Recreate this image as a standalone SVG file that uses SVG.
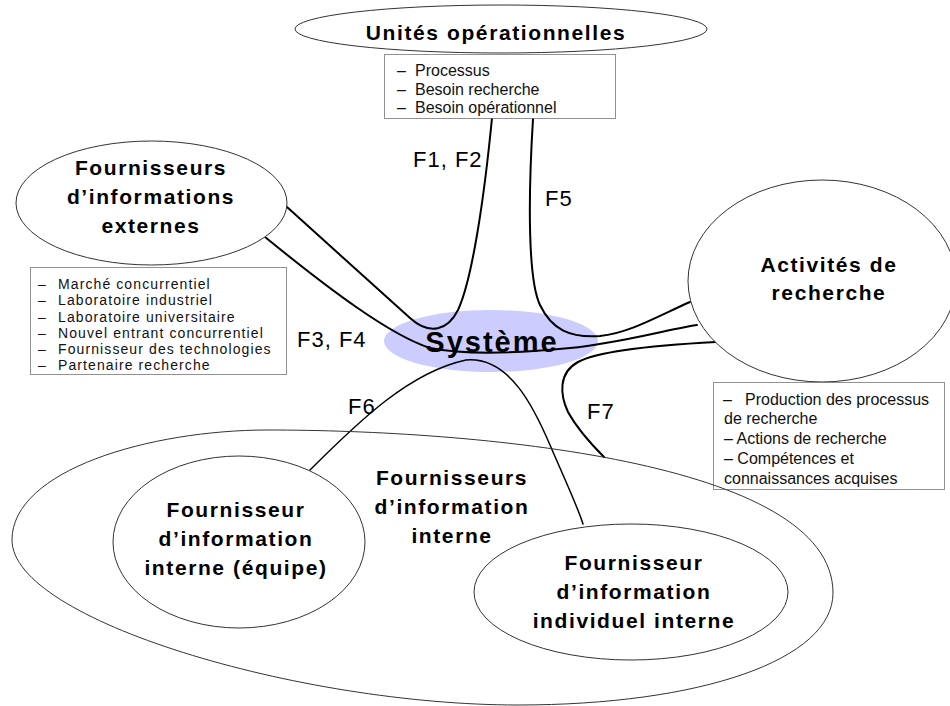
<svg xmlns="http://www.w3.org/2000/svg" width="950" height="706" viewBox="0 0 950 706">
  <style>
    text { font-family: "Liberation Sans", Arial, sans-serif; fill: #000; }
    .node { fill: #fff; stroke: #333; stroke-width: 1; }
    .group { fill: none; stroke: #333; stroke-width: 1; }
    .head { font-size: 21px; font-weight: bold; letter-spacing: 1.6px; text-anchor: middle; }
    .box { fill: #fff; stroke: #222; stroke-width: 1; stroke-dasharray: 1 1; }
    .item { font-size: 16px; fill: #111; }
    .item-sm { font-size: 14px; letter-spacing: 1.1px; fill: #111; }
    .flow { fill: none; stroke: #000; stroke-width: 2; stroke-linecap: round; }
    .flow-thin { fill: none; stroke: #000; stroke-width: 1.5; stroke-linecap: round; }
    .flabel { font-size: 22px; letter-spacing: 1px; }
  </style>

  <!-- central system -->
  <g id="systeme">
    <ellipse cx="491" cy="341" rx="107" ry="31" fill="#ccccff"/>
    <text x="492" y="352" text-anchor="middle" font-size="29" font-weight="bold" letter-spacing="2">Système</text>
  </g>

  <!-- information flows -->
  <g id="connectors">
    <!-- F1, F2 -->
    <path class="flow" d="M287,207 C330,246 390,300 410,318 C430,336 448,330 458,310 C472,280 484,200 492,118"/>
    <!-- F3, F4 -->
    <path class="flow" d="M265,237 C330,290 390,335 430,348 C470,356 530,352 570,348 C620,343 660,331 697,325"/>
    <!-- F5 -->
    <path class="flow" d="M533,119 C528,200 528,280 540,305 C552,330 570,338 600,336 C630,333 660,315 690,302"/>
    <!-- F7 -->
    <path class="flow" d="M716,342 C660,345 600,350 578,362 C558,373 560,395 568,412 C578,430 592,445 604,457"/>
    <!-- F6 -->
    <path class="flow-thin" d="M310,470 C360,420 410,372 466,360 C510,356 535,410 550,445 C565,480 577,505 583,524"/>
  </g>

  <!-- flow labels -->
  <g id="flow-labels">
    <text class="flabel" x="413" y="167">F1, F2</text>
    <text class="flabel" x="545" y="206">F5</text>
    <text class="flabel" x="297" y="347">F3, F4</text>
    <text class="flabel" x="348" y="414">F6</text>
    <text class="flabel" x="587" y="419">F7</text>
  </g>

  <!-- operational units -->
  <g id="unites-operationnelles">
    <ellipse class="node" cx="501" cy="29" rx="206" ry="24"/>
    <text class="head" x="496" y="40">Unités opérationnelles</text>
    <rect class="box" x="384.5" y="54.5" width="231" height="64"/>
    <text class="item"><tspan x="397" y="76">–</tspan><tspan x="415" y="76">Processus</tspan></text>
    <text class="item"><tspan x="397" y="94.5">–</tspan><tspan x="415" y="94.5">Besoin recherche</tspan></text>
    <text class="item"><tspan x="397" y="113">–</tspan><tspan x="415" y="113">Besoin opérationnel</tspan></text>
  </g>

  <!-- external information suppliers -->
  <g id="fournisseurs-externes">
    <ellipse class="node" cx="151.5" cy="203" rx="135.5" ry="62"/>
    <text class="head" x="151" y="175">Fournisseurs</text>
    <text class="head" x="151" y="204">d’informations</text>
    <text class="head" x="151" y="233">externes</text>
    <rect class="box" x="30.5" y="267.5" width="256" height="107"/>
    <text class="item-sm"><tspan x="38" y="289">–</tspan><tspan x="58" y="289">Marché concurrentiel</tspan></text>
    <text class="item-sm"><tspan x="38" y="305">–</tspan><tspan x="58" y="305">Laboratoire industriel</tspan></text>
    <text class="item-sm"><tspan x="38" y="321.5">–</tspan><tspan x="58" y="321.5">Laboratoire universitaire</tspan></text>
    <text class="item-sm"><tspan x="38" y="337.5">–</tspan><tspan x="58" y="337.5">Nouvel entrant concurrentiel</tspan></text>
    <text class="item-sm"><tspan x="38" y="354">–</tspan><tspan x="58" y="354">Fournisseur des technologies</tspan></text>
    <text class="item-sm"><tspan x="38" y="370">–</tspan><tspan x="58" y="370">Partenaire recherche</tspan></text>
  </g>

  <!-- research activities -->
  <g id="activites-recherche">
    <ellipse class="node" cx="822" cy="281" rx="134" ry="101"/>
    <text class="head" x="829" y="272">Activités de</text>
    <text class="head" x="829" y="300">recherche</text>
    <rect class="box" x="713.5" y="382.5" width="231" height="107"/>
    <text class="item"><tspan x="723" y="405">–</tspan><tspan x="745" y="405">Production des processus</tspan></text>
    <text class="item" x="724" y="424">de recherche</text>
    <text class="item" x="724" y="444">– Actions de recherche</text>
    <text class="item" x="724" y="464">– Compétences et</text>
    <text class="item" x="724" y="484">connaissances acquises</text>
  </g>

  <!-- internal information suppliers -->
  <g id="fournisseurs-internes">
    <path class="group" d="M12,540 C12,470 150,430 268,430 C470,430 833,460 833,593 C833,660 700,705 518,705 C300,705 12,620 12,540 Z"/>
    <text class="head" x="452" y="485">Fournisseurs</text>
    <text class="head" x="452" y="514">d’information</text>
    <text class="head" x="452" y="543">interne</text>
  </g>

  <g id="fournisseur-equipe">
    <ellipse class="node" cx="239" cy="542" rx="126" ry="86"/>
    <text class="head" x="236" y="517">Fournisseur</text>
    <text class="head" x="236" y="546">d’information</text>
    <text class="head" x="236" y="575">interne (équipe)</text>
  </g>

  <g id="fournisseur-individuel">
    <ellipse class="node" cx="631" cy="592" rx="157" ry="68"/>
    <text class="head" x="634" y="570">Fournisseur</text>
    <text class="head" x="634" y="599">d’information</text>
    <text class="head" x="634" y="628">individuel interne</text>
  </g>
</svg>
